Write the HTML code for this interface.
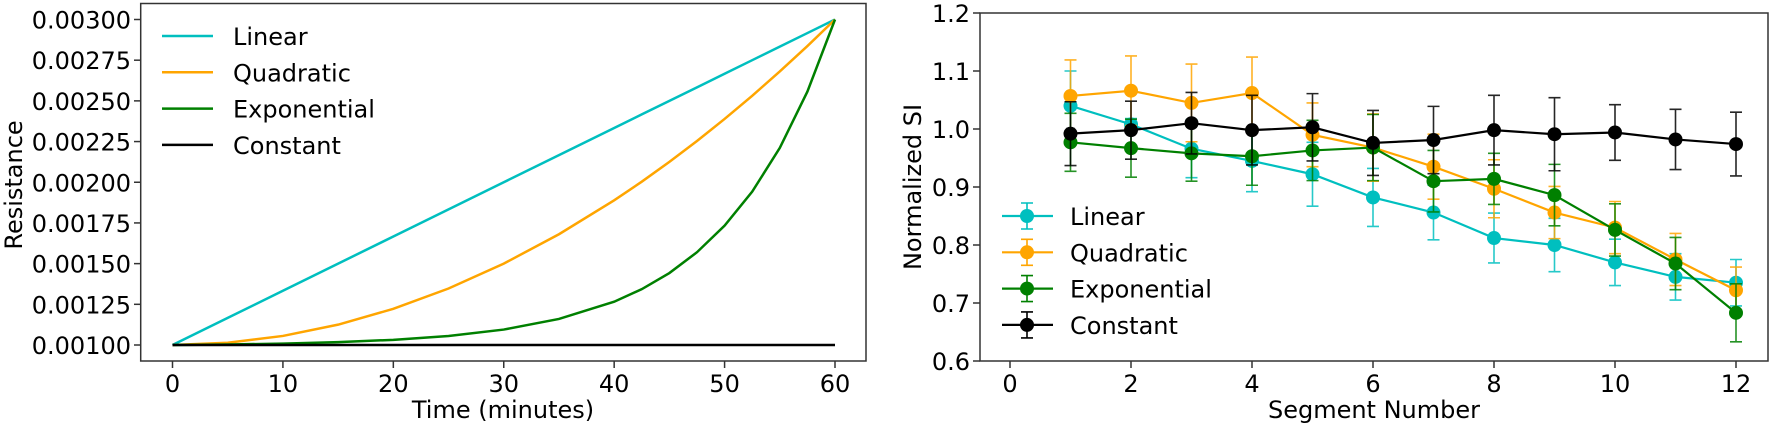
<!DOCTYPE html>
<html><head><meta charset="utf-8"><style>
html,body{margin:0;padding:0;background:#fff;}
svg text{font-family:"DejaVu Sans","Liberation Sans",sans-serif;fill:#000;}
</style></head><body>
<svg id="c" width="1772" height="426" viewBox="0 0 1772 426" xmlns="http://www.w3.org/2000/svg"></svg>
<script>
// ---- Left chart data ----
const timeMin = [0,5,10,15,20,25,30,35,40,42.5,45,47.5,50,52.5,55,57.5,60];
const linearRes = [0.001,0.0011667,0.0013333,0.0015,0.0016667,0.0018333,0.002,0.0021667,0.0023333,0.0024167,0.0025,0.0025833,0.0026667,0.00275,0.0028333,0.0029167,0.003];
const quadRes = [0.001,0.0010139,0.0010556,0.001125,0.0012222,0.0013472,0.0015,0.0016806,0.0018889,0.0020035,0.002125,0.0022535,0.0023889,0.0025313,0.0026806,0.0028368,0.003];
const expRes = [0.001,0.0010032,0.0010085,0.0010173,0.0010318,0.0010556,0.0010949,0.00116,0.001266,0.001343,0.001442,0.00157,0.001733,0.001942,0.002211,0.002557,0.003];
const constRes = [0.001,0.001,0.001,0.001,0.001,0.001,0.001,0.001,0.001,0.001,0.001,0.001,0.001,0.001,0.001,0.001,0.001];
const leftXTicks = [0,10,20,30,40,50,60];
const leftYTicks = ["0.00100","0.00125","0.00150","0.00175","0.00200","0.00225","0.00250","0.00275","0.00300"];
// ---- Right chart data ----
const segments = [1,2,3,4,5,6,7,8,9,10,11,12];
const linSI = [1.04,1.008,0.966,0.945,0.922,0.882,0.856,0.812,0.800,0.770,0.745,0.735];
const linErr = [0.06,0.01,0.05,0.053,0.055,0.05,0.047,0.043,0.046,0.04,0.04,0.04];
const quadSI = [1.057,1.066,1.045,1.062,0.99,0.968,0.935,0.897,0.856,0.830,0.775,0.722];
const quadErr = [0.062,0.06,0.067,0.062,0.055,0.058,0.056,0.05,0.045,0.045,0.045,0.04];
const expSI = [0.977,0.967,0.958,0.953,0.963,0.968,0.910,0.914,0.886,0.826,0.768,0.683];
const expErr = [0.05,0.05,0.048,0.05,0.052,0.057,0.053,0.044,0.053,0.045,0.045,0.05];
const constSI = [0.992,0.998,1.010,0.998,1.003,0.976,0.981,0.998,0.991,0.994,0.982,0.974];
const constErr = [0.055,0.05,0.053,0.06,0.058,0.056,0.058,0.06,0.063,0.048,0.052,0.055];
const rightXTicks = [0,2,4,6,8,10,12];
const rightYTicks = ["0.6","0.7","0.8","0.9","1.0","1.1","1.2"];

const NS="http://www.w3.org/2000/svg";
const svg=document.getElementById('c');
function mk(tag,attrs,parent){const e=document.createElementNS(NS,tag);for(const k in attrs)e.setAttribute(k,attrs[k]);(parent||svg).appendChild(e);return e;}
const COL={lin:'#17becf',cyan:'#00bfbf',orange:'orange',green:'green',black:'black'};

// Left axes
const lx=t=>172.5+t*(835-172.5)/60;
const ly=v=>345-(v-0.001)*(345-19.5)/0.002;
let f=mk('rect',{x:140.7,y:3.5,width:725.3,height:357.5,fill:'none',stroke:'#333','stroke-width':1.5});


leftXTicks.forEach(t=>{
  let l=mk('line',{x1:lx(t),x2:lx(t),y1:361,y2:368,stroke:'#333','stroke-width':1.5});
  
  
  let tx=mk('text',{x:lx(t),y:392,'font-size':24,'text-anchor':'middle'});tx.textContent=t;
  
  
});
leftYTicks.forEach(s=>{
  const y=ly(parseFloat(s));
  let l=mk('line',{x1:134,x2:140.7,y1:y,y2:y,stroke:'#333','stroke-width':1.5});
  
  
  let tx=mk('text',{x:131,y:y+9,'font-size':24,'text-anchor':'end'});tx.textContent=s;
  
  
});
let t1=mk('text',{x:503,y:418,'font-size':24,'text-anchor':'middle'});t1.textContent='Time (minutes)';


let t2=mk('text',{x:0,y:0,'font-size':24,'text-anchor':'middle',transform:'translate(22,185) rotate(-90)'});t2.textContent='Resistance';


[[linearRes,COL.cyan,'line-linear'],[quadRes,COL.orange,'line-quadratic'],[expRes,COL.green,'line-exponential'],[constRes,COL.black,'line-constant']].forEach(([arr,c,n])=>{
  const d=arr.map((v,i)=>(i?'L':'M')+lx(timeMin[i]).toFixed(2)+','+ly(v).toFixed(2)).join(' ');
  let p=mk('path',{d:d,fill:'none',stroke:c,'stroke-width':2.5});
  
  
});
const legL=[['Linear',COL.cyan],['Quadratic',COL.orange],['Exponential',COL.green],['Constant',COL.black]];
legL.forEach(([n,c],i)=>{
  const y=36+i*36.3;
  let g=mk('g',{});
  
  
  mk('line',{x1:162,x2:213,y1:y,y2:y,stroke:c,'stroke-width':2.5},g);
  let tx=mk('text',{x:233,y:y+9,'font-size':24},g);tx.textContent=n;
});

// Right axes
const rx=s=>1010+s*60.5;
const ry=v=>361-(v-0.6)*580;
let f2=mk('rect',{x:980,y:13,width:788,height:348,fill:'none',stroke:'#333','stroke-width':1.5});


rightXTicks.forEach(t=>{
  let l=mk('line',{x1:rx(t),x2:rx(t),y1:361,y2:368,stroke:'#333','stroke-width':1.5});
  
  
  let tx=mk('text',{x:rx(t),y:392,'font-size':24,'text-anchor':'middle'});tx.textContent=t;
  
  
});
rightYTicks.forEach(s=>{
  const y=ry(parseFloat(s));
  let l=mk('line',{x1:973,x2:980,y1:y,y2:y,stroke:'#333','stroke-width':1.5});
  
  
  let tx=mk('text',{x:970,y:y+9,'font-size':24,'text-anchor':'end'});tx.textContent=s;
  
  
});
let t3=mk('text',{x:1374,y:418,'font-size':24,'text-anchor':'middle'});t3.textContent='Segment Number';


let t4=mk('text',{x:0,y:0,'font-size':24,'text-anchor':'middle',transform:'translate(921,187) rotate(-90)'});t4.textContent='Normalized SI';


[[linSI,linErr,COL.cyan,'series-linear'],[quadSI,quadErr,COL.orange,'series-quadratic'],[expSI,expErr,COL.green,'series-exponential'],[constSI,constErr,COL.black,'series-constant']].forEach(([vals,errs,c,n])=>{
  let g=mk('g',{});
  
  
  vals.forEach((v,i)=>{
    const x=rx(segments[i]),y1=ry(v+errs[i]),y2=ry(v-errs[i]);
    let eb=mk('path',{d:`M${x},${y1} L${x},${y2} M${x-6},${y1} L${x+6},${y1} M${x-6},${y2} L${x+6},${y2}`,stroke:c,'stroke-width':1.6,fill:'none',opacity:0.85},g);
    
    
  });
  const d=vals.map((v,i)=>(i?'L':'M')+rx(segments[i])+','+ry(v).toFixed(2)).join(' ');
  mk('path',{d:d,fill:'none',stroke:c,'stroke-width':2.2},g);
  vals.forEach((v,i)=>{
    let m=mk('circle',{cx:rx(segments[i]),cy:ry(v),r:7,fill:c},g);
    
    
  });
});
legL.forEach(([n,c],i)=>{
  const y=216+i*36.3;
  let g=mk('g',{});
  
  
  mk('line',{x1:1002,x2:1053,y1:y,y2:y,stroke:c,'stroke-width':2.2},g);
  mk('path',{d:`M1027,${y-13} L1027,${y+13} M1021,${y-13} L1033,${y-13} M1021,${y+13} L1033,${y+13}`,stroke:c,'stroke-width':1.6,fill:'none'},g);
  mk('circle',{cx:1027,cy:y,r:7,fill:c},g);
  let tx=mk('text',{x:1070,y:y+9,'font-size':24},g);tx.textContent=n;
});
</script>
</body></html>
